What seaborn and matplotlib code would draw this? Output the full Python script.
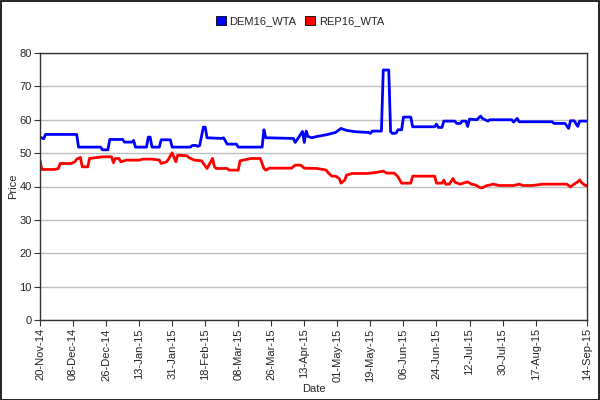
import numpy as np
import pandas as pd
import matplotlib
matplotlib.use("Agg")
import matplotlib.pyplot as plt
import matplotlib.dates as mdates
from matplotlib.patches import Patch, Rectangle
import seaborn as sns

start_date = "2014-11-20"
end_date = "2015-09-14"

dem_days = [0, 2, 3, 20, 21, 33, 34, 37, 38, 45, 46, 50, 51, 52, 58, 59, 60, 61, 65, 66,
            71, 72, 82, 83, 85, 86, 87, 89, 90, 91, 99, 100, 102, 107, 108, 121, 122, 123, 138, 139,
            141, 143, 144, 145, 146, 148, 151, 156, 161, 164, 167, 172, 179, 180, 181, 186, 187, 190, 191, 192,
            194, 195, 197, 198, 202, 203, 215, 216, 217, 219, 220, 226, 227, 229, 230, 232, 233, 234, 238, 240,
            241, 244, 245, 257, 258, 260, 261, 279, 280, 286, 288, 289, 291, 293, 294, 298]
dem_vals = [54.8, 54.3, 55.6, 55.6, 51.8, 51.8, 51.0, 51.0, 54.1, 54.1, 53.3, 53.3, 53.8, 51.8, 51.8, 54.8, 54.8, 51.8, 51.8, 54.0,
            54.0, 51.8, 51.8, 52.3, 52.3, 52.0, 52.3, 57.8, 57.8, 54.6, 54.4, 54.6, 52.7, 52.7, 51.8, 51.8, 57.0, 54.6, 54.4, 53.2,
            54.8, 56.5, 53.2, 56.6, 55.0, 54.6, 55.0, 55.5, 56.2, 57.4, 56.8, 56.4, 56.2, 55.9, 56.6, 56.6, 74.9, 74.9, 56.4, 55.9,
            56.0, 57.0, 57.0, 60.8, 60.8, 57.9, 57.9, 58.7, 57.7, 57.7, 59.6, 59.6, 58.9, 58.9, 59.6, 59.6, 58.0, 60.2, 60.0, 61.1,
            60.4, 59.6, 60.0, 60.0, 59.3, 60.4, 59.4, 59.4, 58.9, 58.9, 57.4, 59.7, 59.7, 58.0, 59.6, 59.6]

rep_days = [0, 1, 8, 10, 11, 17, 19, 20, 22, 23, 26, 27, 34, 39, 40, 41, 43, 44, 47, 54,
            56, 61, 65, 66, 69, 70, 72, 74, 75, 80, 81, 84, 88, 91, 94, 95, 96, 102, 103, 108,
            109, 115, 120, 122, 123, 125, 137, 139, 142, 144, 151, 156, 157, 159, 161, 163, 164, 166, 167, 170,
            178, 183, 187, 189, 193, 195, 197, 202, 203, 215, 216, 219, 220, 221, 223, 225, 226, 229, 231, 233,
            235, 237, 240, 241, 243, 247, 250, 258, 261, 263, 268, 274, 287, 289, 291, 293, 294, 295, 297, 298]
rep_vals = [47.8, 45.1, 45.1, 45.4, 46.9, 46.9, 47.4, 48.2, 48.7, 45.9, 45.9, 48.4, 48.9, 48.9, 47.1, 48.4, 48.4, 47.4, 47.9, 47.9,
            48.2, 48.2, 47.9, 46.9, 47.4, 48.2, 50.1, 47.4, 49.4, 49.2, 48.7, 47.9, 47.7, 45.4, 48.4, 46.0, 45.4, 45.4, 44.9, 44.9,
            47.7, 48.4, 48.4, 45.4, 44.9, 45.5, 45.5, 46.4, 46.4, 45.5, 45.4, 44.9, 44.1, 43.1, 43.1, 42.4, 41.0, 41.9, 43.4, 43.9,
            43.9, 44.2, 44.6, 44.0, 44.0, 42.9, 41.0, 41.0, 43.1, 43.1, 41.0, 41.0, 41.9, 40.7, 40.7, 42.4, 41.3, 40.7, 41.1, 41.4,
            40.7, 40.5, 39.6, 39.6, 40.2, 40.7, 40.3, 40.3, 40.7, 40.3, 40.3, 40.7, 40.7, 39.9, 40.7, 41.4, 42.0, 41.2, 40.3, 40.3]

tick_dates = ["2014-11-20", "2014-12-08", "2014-12-26", "2015-01-13", "2015-01-31", "2015-02-18",
              "2015-03-08", "2015-03-26", "2015-04-13", "2015-05-01", "2015-05-19", "2015-06-06",
              "2015-06-24", "2015-07-12", "2015-07-30", "2015-08-17", "2015-09-14"]
y_ticks = [0, 10, 20, 30, 40, 50, 60, 70, 80]
series_names = ["DEM16_WTA", "REP16_WTA"]
series_colors = ["#0000ff", "#ff0000"]

t0 = pd.Timestamp(start_date)
df = pd.concat([
    pd.DataFrame({"Date": t0 + pd.to_timedelta(dem_days, unit="D"), "Price": dem_vals, "series": series_names[0]}),
    pd.DataFrame({"Date": t0 + pd.to_timedelta(rep_days, unit="D"), "Price": rep_vals, "series": series_names[1]}),
])

sns.set_style("white")
plt.rcParams["font.family"] = ["Liberation Sans", "DejaVu Sans"]

fig = plt.figure(figsize=(6, 4), dpi=100)
ax = fig.add_axes([40 / 600, 80 / 400, 547 / 600, 267 / 400])

sns.lineplot(data=df, x="Date", y="Price", hue="series", palette=dict(zip(series_names, series_colors)),
             linewidth=2.0, ax=ax, legend=False, estimator=None, sort=True)

ax.set_xlim(pd.Timestamp(start_date), pd.Timestamp(end_date))
ax.set_ylim(0, 80)
ax.set_yticks(y_ticks)
ax.yaxis.grid(True, color="#c0c0c0", linewidth=1.0)
ax.set_axisbelow(True)
tick_ts = [pd.Timestamp(d) for d in tick_dates]
ax.set_xticks(tick_ts)
ax.set_xticklabels([t.strftime("%d-%b-%y") for t in tick_ts], rotation=90, fontsize=8)
ax.tick_params(axis="both", which="both", direction="out", length=4, width=0.8, color="#333333",
               labelsize=8, pad=2, bottom=True, left=True)
for s in ax.spines.values():
    s.set_color("#333333")
    s.set_linewidth(1.0)

ax.set_xlabel("Date", fontsize=8, labelpad=2)
ax.set_ylabel("Price", fontsize=8, labelpad=1)

handles = [Patch(facecolor=c, edgecolor="black", linewidth=0.6) for c in series_colors]
fig.legend(handles, series_names, loc="center", bbox_to_anchor=(0.5, 1 - 21 / 400), ncol=2, frameon=False,
           fontsize=8, handlelength=0.9, handleheight=0.9, handletextpad=0.3, columnspacing=0.8)

fig.patches.append(Rectangle((0.001, 0.001), 0.997, 0.996, transform=fig.transFigure, fill=False,
                             edgecolor="black", linewidth=1.2))

fig.savefig("out.png", dpi=100)
